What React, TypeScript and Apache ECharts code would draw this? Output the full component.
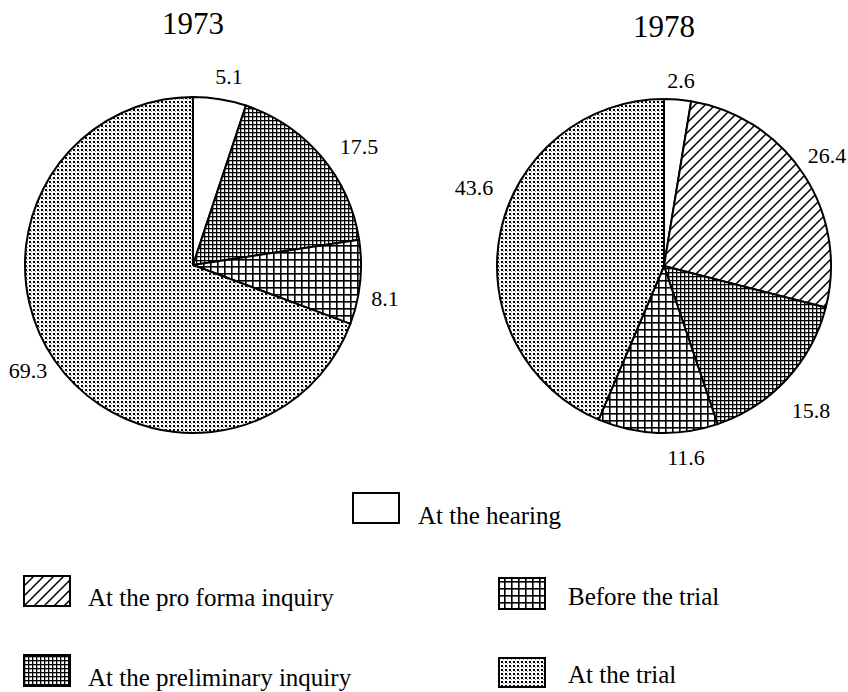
import React, { useEffect, useRef } from 'react';
import * as echarts from 'echarts';

const categories = [
  'At the hearing',
  'At the pro forma inquiry',
  'At the preliminary inquiry',
  'Before the trial',
  'At the trial',
];
const years = ['1973', '1978'];
const values1973 = [5.1, 0, 17.5, 8.1, 69.3];
const values1978 = [2.6, 26.4, 15.8, 11.6, 43.6];
const patternKinds = ['white', 'diag', 'dense', 'grid', 'dots'];

// label centres (px) for each category, per pie
const labelPos1973: (number[] | null)[] = [[229, 76], null, [359, 146], [385, 298], [28, 370]];
const labelPos1978: (number[] | null)[] = [[681, 80], [827, 155], [811, 410], [686, 457], [474, 187]];

// legend layout: [boxX, boxY, boxW, boxH, textX, textCentreY]
const legendLayout = [
  [353, 493, 46, 30, 418, 515],
  [24, 576, 46, 30, 88, 597],
  [24, 655, 46, 31, 88, 677],
  [499, 578, 46, 31, 568, 596],
  [499, 658, 46, 29, 568, 674],
];

const FONT = '"Liberation Serif", "DejaVu Serif", serif';

function makePattern(kind: string): any {
  if (kind === 'white') return '#ffffff';
  const c = document.createElement('canvas');
  let s = 4;
  if (kind === 'diag') s = 10;
  if (kind === 'grid') s = 7;
  c.width = s;
  c.height = s;
  const ctx = c.getContext('2d')!;
  ctx.fillStyle = '#fff';
  ctx.fillRect(0, 0, s, s);
  ctx.fillStyle = '#000';
  ctx.strokeStyle = '#000';
  if (kind === 'diag') {
    ctx.lineWidth = 1.5;
    ctx.beginPath();
    ctx.moveTo(-1, s + 1);
    ctx.lineTo(s + 1, -1);
    ctx.moveTo(-s / 2 - 1, s / 2 + 1);
    ctx.lineTo(s / 2 + 1, -s / 2 - 1);
    ctx.moveTo(s / 2 - 1, s * 1.5 + 1);
    ctx.lineTo(s * 1.5 + 1, s / 2 - 1);
    ctx.stroke();
  } else if (kind === 'grid') {
    ctx.fillRect(0, 0, s, 1.6);
    ctx.fillRect(0, 0, 1.6, s);
  } else if (kind === 'dense') {
    ctx.fillRect(0, 0, s, 1.3);
    ctx.fillRect(0, 0, 1.3, s);
  } else if (kind === 'dots') {
    ctx.fillRect(1, 1, 2, 2);
    ctx.fillStyle = 'rgba(0,0,0,0.45)';
    ctx.fillRect(3, 3, 1, 1);
  }
  return { image: c.toDataURL(), repeat: 'repeat', imageWidth: s, imageHeight: s };
}

export default function App() {
  const ref = useRef<HTMLDivElement>(null);
  useEffect(() => {
    document.body.style.margin = '0';
    const chart = echarts.init(ref.current!, null, { renderer: 'svg' });
    const patterns = patternKinds.map(makePattern);

    const buildSeries = (vals: number[], pos: (number[] | null)[], center: number[], r: number) => {
      const idx = categories.map((_, i) => i).filter((i) => vals[i] > 0);
      return {
        type: 'pie',
        center,
        radius: r,
        startAngle: 90,
        clockwise: true,
        avoidLabelOverlap: false,
        silent: true,
        data: idx.map((i) => ({
          name: categories[i],
          value: vals[i],
          itemStyle: { color: patterns[i] },
        })),
        itemStyle: { borderColor: '#000', borderWidth: 2 },
        label: {
          show: true,
          position: 'outside',
          formatter: '{c}',
          fontSize: 22,
          fontFamily: FONT,
          color: '#000',
        },
        labelLine: { show: false },
        labelLayout: (p: any) => {
          const xy = pos[idx[p.dataIndex]] || [0, 0];
          return { x: xy[0], y: xy[1], align: 'center', verticalAlign: 'middle' };
        },
        emphasis: { disabled: true },
      };
    };

    const legendGraphics: any[] = [];
    categories.forEach((name, i) => {
      const [bx, by, bw, bh, tx, ty] = legendLayout[i];
      legendGraphics.push({
        type: 'rect',
        silent: true,
        shape: { x: bx, y: by, width: bw, height: bh },
        style: { fill: patterns[i], stroke: '#000', lineWidth: 2 },
      });
      legendGraphics.push({
        type: 'text',
        silent: true,
        x: tx,
        y: ty,
        style: {
          text: name,
          fill: '#000',
          font: '25px ' + FONT,
          align: 'left',
          verticalAlign: 'middle',
        },
      });
    });

    chart.setOption({
      animation: false,
      backgroundColor: '#fff',
      title: [
        {
          text: years[0],
          left: 193,
          top: 8,
          textAlign: 'center',
          padding: 0,
          textStyle: { fontSize: 31, fontWeight: 'normal', fontFamily: FONT, color: '#000' },
        },
        {
          text: years[1],
          left: 664,
          top: 11,
          textAlign: 'center',
          padding: 0,
          textStyle: { fontSize: 31, fontWeight: 'normal', fontFamily: FONT, color: '#000' },
        },
      ],
      graphic: legendGraphics,
      series: [
        buildSeries(values1973, labelPos1973, [193, 265], 168),
        buildSeries(values1978, labelPos1978, [664, 266], 167),
      ],
    });
    return () => chart.dispose();
  }, []);
  return <div ref={ref} style={{ width: 848, height: 692 }} />;
}
